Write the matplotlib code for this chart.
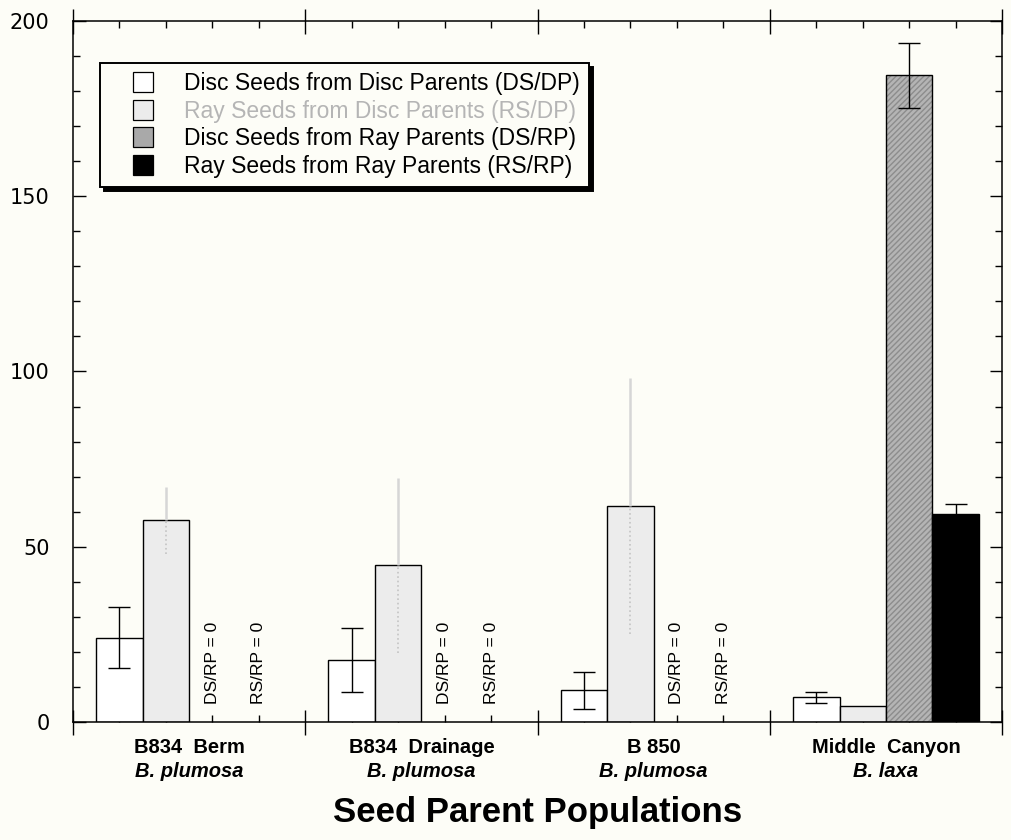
import matplotlib
matplotlib.use('Agg')
import matplotlib.pyplot as plt
import numpy as np
from matplotlib.lines import Line2D
from matplotlib.ticker import MultipleLocator, FixedLocator
import matplotlib.transforms as mtransforms

# ---------------- data ----------------
populations = ['B834  Berm', 'B834  Drainage', 'B 850', 'Middle  Canyon']
species = ['B. plumosa', 'B. plumosa', 'B. plumosa', 'B. laxa']
series_names = ['Disc Seeds from Disc Parents (DS/DP)',
                'Ray Seeds from Disc Parents (RS/DP)',
                'Disc Seeds from Ray Parents (DS/RP)',
                'Ray Seeds from Ray Parents (RS/RP)']
ds_dp = [24.0, 17.7, 9.1, 7.0]
ds_dp_err = [8.7, 9.1, 5.3, 1.5]
rs_dp = [57.5, 44.7, 61.7, 4.5]
rs_dp_err = [9.6, 25.0, 36.5, 0.0]
ds_rp = [0.0, 0.0, 0.0, 184.5]
ds_rp_err = [0.0, 0.0, 0.0, 9.3]
rs_rp = [0.0, 0.0, 0.0, 59.3]
rs_rp_err = [0.0, 0.0, 0.0, 2.9]
zero_labels = ['DS/RP = 0', 'RS/RP = 0']
x_title = 'Seed Parent Populations'
y_ticks = [0, 50, 100, 150, 200]

# ---------------- style ----------------
bg = '#fdfdf7'
fills = ['white', '#ececec', '#b4b4b4', 'black']
err_colors = ['black', '#d6d6d6', 'black', 'black']
legend_text_colors = ['black', '#b5b5b5', 'black', 'black']

plt.rcParams['font.family'] = ['Liberation Sans', 'DejaVu Sans']

fig = plt.figure(figsize=(10.11, 8.4), dpi=100, facecolor=bg)
ax = fig.add_axes([0.0722, 0.1405, 0.919, 0.8345], facecolor=bg)

n_groups = len(populations)
width = 0.2
group_x = np.arange(n_groups)
values = [ds_dp, rs_dp, ds_rp, rs_rp]
errors = [ds_dp_err, rs_dp_err, ds_rp_err, rs_rp_err]

for k in range(4):
    xs = group_x + (k - 1.5) * width
    vals = np.array(values[k])
    errs = np.array(errors[k])
    mask = vals > 0
    if k == 2:
        ax.bar(xs[mask], vals[mask], width, color=fills[k], edgecolor='#8c8c8c',
               hatch='//////', linewidth=0, zorder=2)
        ax.bar(xs[mask], vals[mask], width, facecolor='none', edgecolor='black',
               linewidth=1.0, zorder=3)
    else:
        ax.bar(xs[mask], vals[mask], width, color=fills[k], edgecolor='black',
               linewidth=1.0, zorder=2)
    emask = mask & (errs > 0)
    zeros = np.zeros(emask.sum())
    if k == 1:
        # upper half: solid light grey; lower half (inside bar): faint dotted
        ax.errorbar(xs[emask], vals[emask], yerr=[zeros, errs[emask]], fmt='none',
                    ecolor=err_colors[k], elinewidth=1.8, capsize=0, zorder=4)
        eb = ax.errorbar(xs[emask], vals[emask], yerr=[errs[emask], zeros],
                         fmt='none', ecolor='#c4c4c4', elinewidth=1.2,
                         capsize=0, zorder=4)
        for lc in eb.lines[2]:
            lc.set_linestyle(':')
    else:
        ax.errorbar(xs[emask], vals[emask], yerr=errs[emask], fmt='none',
                    ecolor=err_colors[k], elinewidth=1.0, capsize=8,
                    capthick=1.0, zorder=4)

# "= 0" annotations
for g in range(n_groups):
    for j, k in enumerate([2, 3]):
        if values[k][g] == 0:
            ax.text(g + (k - 1.5) * width, 5.2, zero_labels[j], rotation=90,
                    ha='center', va='bottom', fontsize=12.5, zorder=5)

# axes limits & ticks
ax.set_xlim(-0.5, n_groups - 0.5)
ax.set_ylim(0, 200)
ax.xaxis.set_major_locator(FixedLocator(np.arange(-0.5, n_groups, 1.0)))
minor_x = [g + (k - 1.5) * width for g in range(n_groups) for k in range(4)]
ax.xaxis.set_minor_locator(FixedLocator(minor_x))
ax.set_xticklabels([])
ax.tick_params(axis='x', which='major', direction='inout', length=18, width=1.0,
               top=True, bottom=True, labelbottom=False)
ax.tick_params(axis='x', which='minor', direction='in', length=5, width=1.0,
               top=True, bottom=True)

ax.set_yticks(y_ticks)
ax.yaxis.set_minor_locator(MultipleLocator(10))
ax.tick_params(axis='y', which='major', direction='in', length=9, width=1.0,
               left=True, right=True, labelsize=15, pad=17)
ax.tick_params(axis='y', which='minor', direction='in', length=5, width=1.0,
               left=True, right=True)
for lab in ax.get_yticklabels():
    lab.set_fontfamily(['DejaVu Sans'])
for sp in ax.spines.values():
    sp.set_linewidth(1.1)

# group labels
trans = mtransforms.blended_transform_factory(ax.transData, ax.transAxes)
for g in range(n_groups):
    ax.text(g, -0.037, populations[g], transform=trans, ha='center', va='center',
            fontsize=14.5, fontweight='bold')
    ax.text(g, -0.071, species[g], transform=trans, ha='center', va='center',
            fontsize=14.5, fontweight='bold', fontstyle='italic')

fig.text(0.532, 0.033, x_title, ha='center', va='center', fontsize=25,
         fontweight='bold')

# legend
handles = []
for k in range(4):
    handles.append(Line2D([], [], marker='s', markersize=15, linestyle='none',
                          markerfacecolor=fills[k] if k != 2 else '#a9a9a9',
                          markeredgecolor='black', markeredgewidth=0.9))
leg = ax.legend(handles, series_names, loc='upper left',
                bbox_to_anchor=(0.029, 0.94), borderaxespad=0, fontsize=16.5,
                handlelength=3.0, handletextpad=0.26, borderpad=0.4,
                labelspacing=0.2, fancybox=False, framealpha=1,
                edgecolor='black',
                shadow={'ox': 3, 'oy': -3, 'color': 'black', 'alpha': 1})
leg.get_frame().set_linewidth(1.4)
leg.get_frame().set_facecolor(bg)
for t, c in zip(leg.get_texts(), legend_text_colors):
    t.set_color(c)
leg.set_zorder(10)

fig.savefig('out.png', dpi=100, facecolor=bg)
